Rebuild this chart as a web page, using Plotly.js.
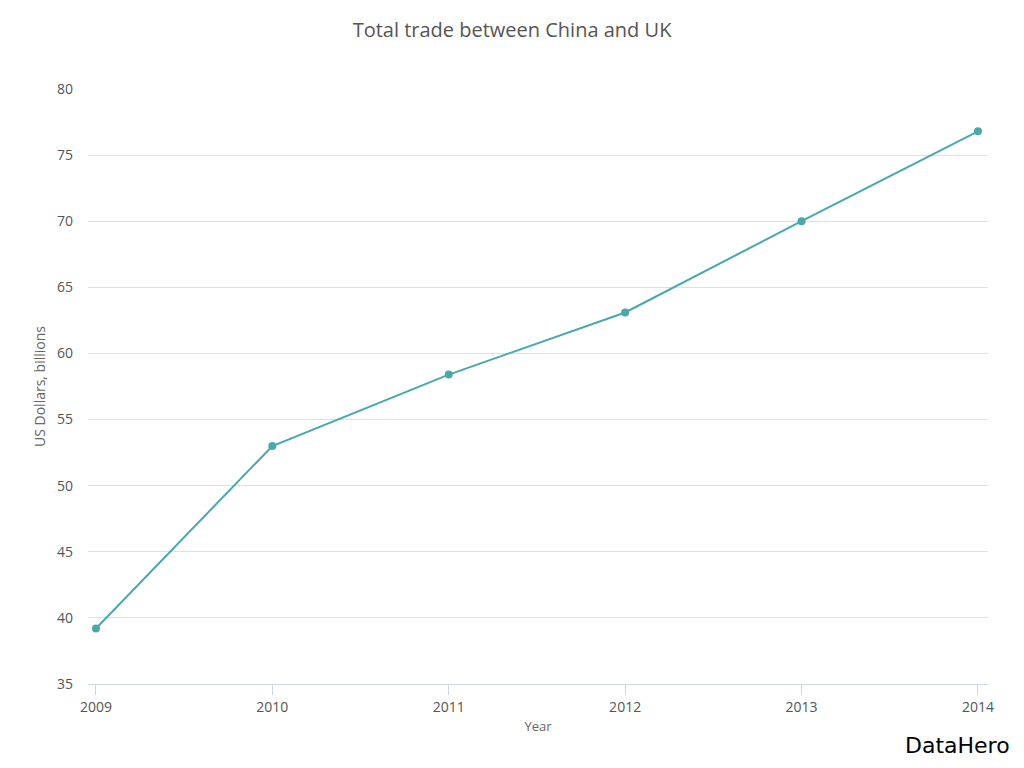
<!DOCTYPE html>
<html>
<head>
<meta charset="utf-8">
<script src="https://cdn.plot.ly/plotly-3.0.1.min.js"></script>
<style>html,body{margin:0;padding:0;background:#fff;}#chart{width:1024px;height:768px;}</style>
</head>
<body>
<div id="chart"></div>
<script>
var years = [2009, 2010, 2011, 2012, 2013, 2014];
var tradeBillions = [39.2, 53.0, 58.4, 63.1, 70.0, 76.8];
var yTicks = [35, 40, 45, 50, 55, 60, 65, 70, 75, 80];

var trace = {
  x: years,
  y: tradeBillions,
  type: 'scatter',
  mode: 'lines+markers',
  line: {color: '#4aa8ab', width: 2},
  marker: {color: '#4aa8ab', size: 8},
  hoverinfo: 'x+y'
};

var FONT = '"Open Sans", Lato, sans-serif';

var layout = {
  width: 1024,
  height: 768,
  paper_bgcolor: '#ffffff',
  plot_bgcolor: '#ffffff',
  margin: {l: 88, r: 36, t: 89, b: 84},
  showlegend: false,
  font: {family: FONT, color: '#555555', size: 13},
  title: {
    text: 'Total trade between China and UK',
    font: {family: FONT, size: 20, color: '#555555'},
    x: 0.5, xanchor: 'center', y: 0.961, yanchor: 'middle'
  },
  xaxis: {
    range: [2008.955, 2014.057],
    tickvals: years,
    ticktext: years.map(String),
    showgrid: false,
    zeroline: false,
    showline: true,
    linecolor: '#ccd6eb',
    linewidth: 1,
    ticks: 'outside',
    ticklen: 10,
    tickcolor: '#ccd6eb',
    tickfont: {family: FONT, size: 14, color: '#555555'},
    title: {text: 'Year', font: {family: FONT, size: 13, color: '#666666'}, standoff: 7}
  },
  yaxis: {
    range: [35, 80],
    tickvals: yTicks,
    showgrid: true,
    gridcolor: '#e0e0e0',
    gridwidth: 1,
    zeroline: false,
    showline: false,
    ticks: '',
    ticklabelstandoff: 14,
    tickfont: {family: FONT, size: 14, color: '#555555'},
    title: {text: 'US Dollars, billions', font: {family: FONT, size: 14, color: '#666666'}, standoff: 8}
  },
  annotations: [{
    text: 'DataHero',
    xref: 'paper', yref: 'paper',
    x: 1.0267, y: -0.104,
    xanchor: 'right', yanchor: 'middle',
    showarrow: false,
    font: {family: '"DejaVu Sans", sans-serif', size: 22, color: '#000000'}
  }]
};

Plotly.newPlot('chart', [trace], layout, {displayModeBar: false, staticPlot: true});
</script>
</body>
</html>
